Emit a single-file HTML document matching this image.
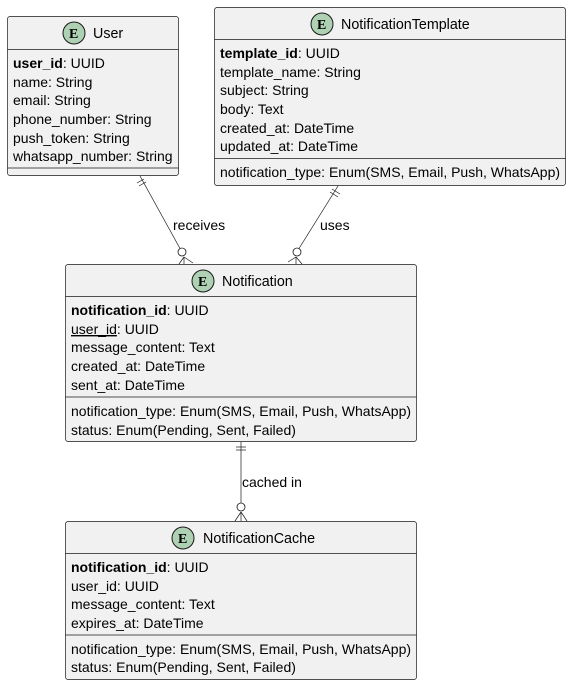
<!DOCTYPE html>
<html><head><meta charset="utf-8"><style>
html,body{margin:0;padding:0;background:#fff;}
svg{display:block;}
text{font-family:"Liberation Sans",sans-serif;font-size:14px;fill:#000;}
.t{font-size:14.3px;}
.b{font-weight:bold;}
.box{fill:#F1F1F1;stroke:#181818;stroke-width:0.7;}
.ln{stroke:#181818;stroke-width:0.7;fill:none;}
.e{fill:#ADD1B2;stroke:#181818;stroke-width:1;}
.et{font-family:"Liberation Serif",serif;font-weight:bold;font-size:14px;}
</style></head><body>
<svg width="572" height="686" viewBox="0 0 572 686" xmlns="http://www.w3.org/2000/svg">
<!-- User -->
<rect class="box" x="7.5" y="16.5" width="171" height="159" rx="2.5"/>
<line class="ln" x1="7.5" y1="49.5" x2="178.5" y2="49.5"/>
<line class="ln" x1="7.5" y1="168" x2="178.5" y2="168"/>
<circle class="e" cx="74" cy="33" r="11"/><text class="et" x="69" y="38">E</text>
<text class="t" x="93" y="38">User</text>
<text x="13" y="68"><tspan class="b">user_id</tspan>: UUID</text>
<text x="13" y="87">name: String</text>
<text x="13" y="105">email: String</text>
<text x="13" y="124">phone_number: String</text>
<text x="13" y="143">push_token: String</text>
<text x="13" y="161">whatsapp_number: String</text>

<!-- NotificationTemplate -->
<rect class="box" x="214.5" y="7.5" width="351" height="178" rx="2.5"/>
<line class="ln" x1="214.5" y1="39.5" x2="565.5" y2="39.5"/>
<line class="ln" x1="214.5" y1="158.5" x2="565.5" y2="158.5"/>
<circle class="e" cx="322" cy="24" r="11"/><text class="et" x="317" y="29">E</text>
<text class="t" x="341" y="29">NotificationTemplate</text>
<text x="220" y="58"><tspan class="b">template_id</tspan>: UUID</text>
<text x="220" y="77">template_name: String</text>
<text x="220" y="95">subject: String</text>
<text x="220" y="114">body: Text</text>
<text x="220" y="133">created_at: DateTime</text>
<text x="220" y="151">updated_at: DateTime</text>
<text x="220" y="177">notification_type: Enum(SMS, Email, Push, WhatsApp)</text>

<!-- Notification -->
<rect class="box" x="65.5" y="264.5" width="351" height="177" rx="2.5"/>
<line class="ln" x1="65.5" y1="296.5" x2="416.5" y2="296.5"/>
<line class="ln" x1="65.5" y1="397" x2="416.5" y2="397"/>
<circle class="e" cx="203" cy="281" r="11"/><text class="et" x="198" y="286">E</text>
<text class="t" x="222" y="286">Notification</text>
<text x="71" y="315"><tspan class="b">notification_id</tspan>: UUID</text>
<text x="71" y="334"><tspan text-decoration="underline">user_id</tspan>: UUID</text>
<text x="71" y="352">message_content: Text</text>
<text x="71" y="371">created_at: DateTime</text>
<text x="71" y="390">sent_at: DateTime</text>
<text x="71" y="416">notification_type: Enum(SMS, Email, Push, WhatsApp)</text>
<text x="71" y="435">status: Enum(Pending, Sent, Failed)</text>

<!-- NotificationCache -->
<rect class="box" x="65.5" y="521.5" width="351" height="158" rx="2.5"/>
<line class="ln" x1="65.5" y1="553.5" x2="416.5" y2="553.5"/>
<line class="ln" x1="65.5" y1="635" x2="416.5" y2="635"/>
<circle class="e" cx="183" cy="538" r="11"/><text class="et" x="178" y="543">E</text>
<text class="t" x="203" y="543">NotificationCache</text>
<text x="71" y="572"><tspan class="b">notification_id</tspan>: UUID</text>
<text x="71" y="591">user_id: UUID</text>
<text x="71" y="609">message_content: Text</text>
<text x="71" y="628">expires_at: DateTime</text>
<text x="71" y="654">notification_type: Enum(SMS, Email, Push, WhatsApp)</text>
<text x="71" y="672">status: Enum(Pending, Sent, Failed)</text>

<!-- User -> Notification -->
<line class="ln" x1="140" y1="176" x2="180" y2="248.5"/>
<line class="ln" x1="137" y1="183" x2="144" y2="179"/>
<line class="ln" x1="139" y1="186" x2="146" y2="182"/>
<circle cx="182" cy="252" r="4" fill="#fff" stroke="#181818" stroke-width="0.8"/>
<line class="ln" x1="184" y1="257" x2="184" y2="264"/>
<line class="ln" x1="184" y1="257" x2="193" y2="263"/>
<line class="ln" x1="184" y1="257" x2="179" y2="264"/>
<text x="173" y="230">receives</text>

<!-- Template -> Notification -->
<line class="ln" x1="338" y1="186" x2="299" y2="248.5"/>
<line class="ln" x1="332" y1="189" x2="340" y2="194"/>
<line class="ln" x1="330" y1="192" x2="338" y2="197"/>
<circle cx="297" cy="252" r="4" fill="#fff" stroke="#181818" stroke-width="0.8"/>
<line class="ln" x1="296" y1="257" x2="296" y2="264"/>
<line class="ln" x1="296" y1="257" x2="288" y2="262"/>
<line class="ln" x1="296" y1="257" x2="302" y2="264"/>
<text x="320" y="230">uses</text>

<!-- Notification -> Cache -->
<line class="ln" x1="241" y1="442" x2="241" y2="503"/>
<line class="ln" x1="236" y1="447" x2="246" y2="447"/>
<line class="ln" x1="236" y1="450" x2="246" y2="450"/>
<circle cx="241" cy="507" r="4" fill="#fff" stroke="#181818" stroke-width="0.8"/>
<line class="ln" x1="241" y1="512" x2="241" y2="521"/>
<line class="ln" x1="241" y1="512" x2="235" y2="521"/>
<line class="ln" x1="241" y1="512" x2="247" y2="521"/>
<text x="242" y="487">cached in</text>
</svg>
</body></html>
